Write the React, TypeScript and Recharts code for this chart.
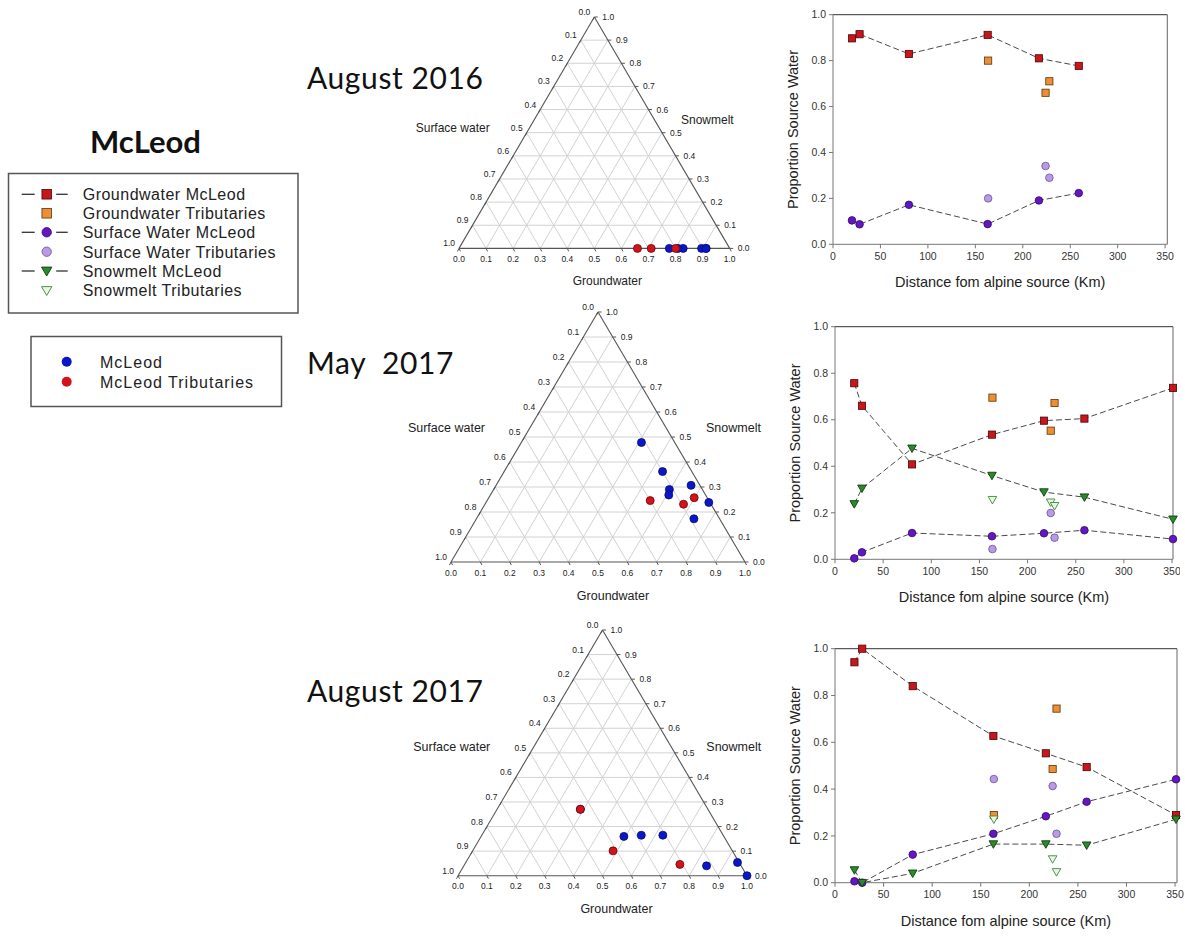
import React from 'react';
import { ScatterChart, Scatter, XAxis, YAxis, ReferenceLine } from 'recharts';

const FONT = "'Liberation Sans', Arial, Helvetica, sans-serif";
const TITLE_FONT = "Lato, 'Open Sans', sans-serif";

// Distances (km) from alpine source
const mcleodKm = [20, 28, 80, 163, 217, 259, 351];
const tribKm = [163.5, 224, 228];

// August 2016 (six McLeod sites, no snowmelt)
const aug16GwMcLeod = [0.897, 0.915, 0.829, 0.912, 0.81, 0.777];
const aug16SwMcLeod = [0.104, 0.087, 0.172, 0.088, 0.191, 0.223];
const aug16SmMcLeod = [0, 0, 0, 0, 0, 0];
const aug16GwTrib = [0.8, 0.66, 0.71];
const aug16SwTrib = [0.2, 0.341, 0.29];
const aug16SmTrib = [0, 0, 0];

// May 2017
const may17GwMcLeod = [0.757, 0.66, 0.408, 0.536, 0.596, 0.605, 0.737];
const may17SwMcLeod = [0.004, 0.03, 0.113, 0.099, 0.112, 0.125, 0.087];
const may17SmMcLeod = [0.238, 0.305, 0.477, 0.36, 0.289, 0.267, 0.172];
const may17GwTrib = [0.695, 0.553, 0.672];
const may17SwTrib = [0.044, 0.199, 0.093];
const may17SmTrib = [0.256, 0.245, 0.23];

// August 2017
const aug17GwMcLeod = [0.942, 1.0, 0.84, 0.627, 0.553, 0.494, 0.289];
const aug17SwMcLeod = [0.006, 0.0, 0.12, 0.209, 0.284, 0.346, 0.442];
const aug17SmMcLeod = [0.054, 0.0, 0.04, 0.165, 0.165, 0.16, 0.271];
const aug17GwTrib = [0.289, 0.486, 0.744];
const aug17SwTrib = [0.443, 0.413, 0.209];
const aug17SmTrib = [0.271, 0.101, 0.046];

// Ticks
const proportionTicks = [0, 0.2, 0.4, 0.6, 0.8, 1.0];
const distanceTicks = [0, 50, 100, 150, 200, 250, 300, 350];
const ternaryTicks = [0, 0.1, 0.2, 0.3, 0.4, 0.5, 0.6, 0.7, 0.8, 0.9, 1.0];
const ternaryGrid = [0.1, 0.2, 0.3, 0.4, 0.5, 0.6, 0.7, 0.8, 0.9];

const legendSeries = [
  'Groundwater McLeod',
  'Groundwater Tributaries',
  'Surface Water McLeod',
  'Surface Water Tributaries',
  'Snowmelt McLeod',
  'Snowmelt Tributaries',
];
const legendSites = ['McLeod', 'McLeod Tributaries'];

// Colours
const C = {
  gwMc: ['#c8161d', '#4a0606'],
  gwTr: ['#ee8f36', '#5a3408'],
  swMc: ['#6316c2', '#2e0a66'],
  swTr: ['#b99be2', '#6a4fa0'],
  smMc: ['#2b8a2b', '#0e3f0e'],
  smTr: ['#e9f6e2', '#3a8a3a'],
  blue: ['#0b17c6', '#050c70'],
  red: ['#d3121b', '#6a0808'],
};

type Pt = { x: number; y: number; label?: string };
const pairs = (xs: number[], ys: number[]): Pt[] => ys.map((y, i) => ({ x: xs[i], y }));
const ternaryPoints = (gw: number[], sw: number[], sm: number[]): Pt[] =>
  gw.map((g, i) => {
    const t = g + sw[i] + sm[i];
    return { x: (g + 0.5 * sm[i]) / t, y: sm[i] / t };
  });

const NoShape = () => <g />;
const squareShape = (c: string[], s = 7.2) => (p: any) =>
  p.cx == null ? <g /> : <rect x={p.cx - s / 2} y={p.cy - s / 2} width={s} height={s} fill={c[0]} stroke={c[1]} strokeWidth={0.8} />;
const circleShape = (c: string[], r = 3.8) => (p: any) =>
  p.cx == null ? <g /> : <circle cx={p.cx} cy={p.cy} r={r} fill={c[0]} stroke={c[1]} strokeWidth={0.8} />;
const triShape = (c: string[]) => (p: any) =>
  p.cx == null ? <g /> : (
    <polygon
      points={`${p.cx - 4.3},${p.cy - 3.3} ${p.cx + 4.3},${p.cy - 3.3} ${p.cx},${p.cy + 4.2}`}
      fill={c[0]}
      stroke={c[1]}
      strokeWidth={0.9}
    />
  );

const XTitle = (props: any) => {
  const vb = props.viewBox || {};
  const x = (vb.x ?? 0) + (vb.width ?? 0) / 2;
  const y = (vb.y ?? 0) + 43;
  return (
    <text x={x} y={y} textAnchor="middle" fontSize={14.5} fontFamily={FONT} fill="#222">
      Distance fom alpine source (Km)
    </text>
  );
};
const YTitle = (props: any) => {
  const vb = props.viewBox || {};
  const x = (vb.x ?? 0) + (vb.width ?? 0) - 40;
  const y = (vb.y ?? 0) + (vb.height ?? 0) / 2;
  return (
    <text
      x={x}
      y={y}
      transform={`rotate(-90, ${x}, ${y})`}
      textAnchor="middle"
      dominantBaseline="central"
      fontSize={14.5}
      fontFamily={FONT}
      fill="#222"
    >
      Proportion Source Water
    </text>
  );
};

function SourceChart(props: any) {
  const { left, top, width, height, margin, xMax, gwMc, gwTr, swMc, swTr, smMc, smTr } = props;
  const dash = { stroke: '#4a4a4a', strokeWidth: 1, strokeDasharray: '6 3' };
  return (
    <div style={{ position: 'absolute', left, top, width, height }}>
      <ScatterChart width={width} height={height} margin={margin}>
        <XAxis
          type="number"
          dataKey="x"
          domain={[0, xMax]}
          ticks={distanceTicks}
          interval={0}
          height={30}
          tickSize={4}
          tickMargin={4}
          tick={{ fontSize: 10.5, fill: '#333', fontFamily: FONT }}
          axisLine={{ stroke: '#777' }}
          tickLine={{ stroke: '#777' }}
          label={<XTitle />}
        />
        <YAxis
          type="number"
          dataKey="y"
          domain={[0, 1]}
          ticks={proportionTicks}
          interval={0}
          width={40}
          tickSize={4}
          tickMargin={3}
          tickFormatter={(v: number) => v.toFixed(1)}
          tick={{ fontSize: 10.5, fill: '#333', fontFamily: FONT }}
          axisLine={{ stroke: '#777' }}
          tickLine={{ stroke: '#777' }}
          label={<YTitle />}
        />
        <ReferenceLine y={1} stroke="#333" strokeWidth={1} ifOverflow="visible" />
        <ReferenceLine x={xMax} stroke="#666" strokeWidth={1} ifOverflow="visible" />
        <Scatter data={gwMc} line={dash} lineType="joint" shape={squareShape(C.gwMc)} isAnimationActive={false} />
        <Scatter data={swMc} line={dash} lineType="joint" shape={circleShape(C.swMc)} isAnimationActive={false} />
        {smMc && smMc.length > 0 && (
          <Scatter data={smMc} line={dash} lineType="joint" shape={triShape(C.smMc)} isAnimationActive={false} />
        )}
        <Scatter data={gwTr} shape={squareShape(C.gwTr)} isAnimationActive={false} />
        <Scatter data={swTr} shape={circleShape(C.swTr)} isAnimationActive={false} />
        {smTr && smTr.length > 0 && <Scatter data={smTr} shape={triShape(C.smTr)} isAnimationActive={false} />}
      </ScatterChart>
    </div>
  );
}

function Ternary(props: any) {
  const { left, top, w, h, mcGw, mcSw, mcSm, trGw, trSw, trSm, nameSize, swDx, swDy, smDx, smDy, gwDx, gwDy } = props;
  const mL = 85, mR = 80, mT = 15, mB = 50;
  const mc = ternaryPoints(mcGw, mcSw, mcSm);
  const tr = ternaryPoints(trGw, trSw, trSm);
  const gridSegs: Pt[][] = [];
  ternaryGrid.forEach((v) => {
    gridSegs.push([{ x: 0.5 * v, y: v }, { x: 1 - 0.5 * v, y: v }]);
    gridSegs.push([{ x: v, y: 0 }, { x: v + 0.5 * (1 - v), y: 1 - v }]);
    gridSegs.push([{ x: 1 - v, y: 0 }, { x: 0.5 * (1 - v), y: 1 - v }]);
  });
  const edges: Pt[][] = [
    [{ x: 0, y: 0 }, { x: 1, y: 0 }],
    [{ x: 0, y: 0 }, { x: 0.5, y: 1 }],
    [{ x: 1, y: 0 }, { x: 0.5, y: 1 }],
  ];
  const bottomTicks = ternaryTicks.map((v) => ({ x: v, y: 0, label: v.toFixed(1) }));
  const leftTicks = ternaryTicks.map((v) => ({ x: 0.5 * (1 - v), y: 1 - v, label: v.toFixed(1) }));
  const rightTicks = ternaryTicks.map((v) => ({ x: 1 - 0.5 * v, y: v, label: v.toFixed(1) }));
  const tf = { fontSize: 8.5, fontFamily: FONT, fill: '#222' };
  const bottomShape = (p: any) => (
    <g>
      <line x1={p.cx} y1={p.cy} x2={p.cx + 1.5} y2={p.cy + 3} stroke="#555" />
      <text x={p.cx} y={p.cy + 13.5} textAnchor="middle" {...tf}>{p.payload.label}</text>
    </g>
  );
  const leftShape = (p: any) => (
    <g>
      <line x1={p.cx} y1={p.cy} x2={p.cx - 1.5} y2={p.cy + 3} stroke="#555" />
      <text x={p.cx - 4} y={p.cy - 2} textAnchor="end" {...tf}>{p.payload.label}</text>
    </g>
  );
  const rightShape = (p: any) => (
    <g>
      <line x1={p.cx} y1={p.cy} x2={p.cx + 3.5} y2={p.cy} stroke="#555" />
      <text x={p.cx + 8} y={p.cy + 3} textAnchor="start" {...tf}>{p.payload.label}</text>
    </g>
  );
  const nameShape = (label: string, anchor: string, dx: number, dy: number) => (p: any) => (
    <text x={p.cx + dx} y={p.cy + dy} textAnchor={anchor} fontSize={nameSize} fontFamily={FONT} fill="#222">
      {label}
    </text>
  );
  const W = w + mL + mR;
  const H = h + mT + mB;
  return (
    <div style={{ position: 'absolute', left: left - mL, top: top - mT, width: W, height: H }}>
      <ScatterChart width={W} height={H} margin={{ top: mT, right: mR, bottom: mB, left: mL }}>
        <XAxis type="number" dataKey="x" domain={[0, 1]} hide />
        <YAxis type="number" dataKey="y" domain={[0, 1]} hide />
        {gridSegs.map((seg, i) => (
          <Scatter
            key={`g${i}`}
            data={seg}
            line={{ stroke: '#d2d2d2', strokeWidth: 1 }}
            lineType="joint"
            shape={NoShape}
            isAnimationActive={false}
          />
        ))}
        {edges.map((seg, i) => (
          <Scatter
            key={`e${i}`}
            data={seg}
            line={{ stroke: '#555', strokeWidth: 1.1 }}
            lineType="joint"
            shape={NoShape}
            isAnimationActive={false}
          />
        ))}
        <Scatter data={bottomTicks} shape={bottomShape} isAnimationActive={false} />
        <Scatter data={leftTicks} shape={leftShape} isAnimationActive={false} />
        <Scatter data={rightTicks} shape={rightShape} isAnimationActive={false} />
        <Scatter data={[{ x: 0.25, y: 0.5 }]} shape={nameShape('Surface water', 'end', swDx, swDy)} isAnimationActive={false} />
        <Scatter data={[{ x: 0.75, y: 0.5 }]} shape={nameShape('Snowmelt', 'start', smDx, smDy)} isAnimationActive={false} />
        <Scatter data={[{ x: 0.5, y: 0 }]} shape={nameShape('Groundwater', 'middle', gwDx, gwDy)} isAnimationActive={false} />
        <Scatter data={mc} shape={circleShape(C.blue, 4)} isAnimationActive={false} />
        <Scatter data={tr} shape={circleShape(C.red, 4)} isAnimationActive={false} />
      </ScatterChart>
    </div>
  );
}

function LegendIcon({ kind, x, y, c, line }: any) {
  const s = 9.5;
  let mark = null;
  if (kind === 'square') mark = <rect x={x - s / 2} y={y - s / 2} width={s} height={s} fill={c[0]} stroke={c[1]} strokeWidth={0.8} />;
  if (kind === 'circle') mark = <circle cx={x} cy={y} r={4.7} fill={c[0]} stroke={c[1]} strokeWidth={0.8} />;
  if (kind === 'tri')
    mark = <polygon points={`${x - 5.2},${y - 3.9} ${x + 5.2},${y - 3.9} ${x},${y + 5}`} fill={c[0]} stroke={c[1]} strokeWidth={0.9} />;
  return (
    <g>
      {line && <line x1={x - 25} y1={y} x2={x - 12} y2={y} stroke="#333" strokeWidth={1.3} />}
      {line && <line x1={x + 9.5} y1={y} x2={x + 21} y2={y} stroke="#333" strokeWidth={1.3} />}
      {mark}
    </g>
  );
}

export default function App() {
  const legendIcons = [
    { kind: 'square', c: C.gwMc, line: true },
    { kind: 'square', c: C.gwTr, line: false },
    { kind: 'circle', c: C.swMc, line: true },
    { kind: 'circle', c: C.swTr, line: false },
    { kind: 'tri', c: C.smMc, line: true },
    { kind: 'tri', c: C.smTr, line: false },
  ];
  const rowY = [194.3, 213.3, 232.3, 251.7, 271, 290.5];
  return (
    <div style={{ position: 'absolute', left: 0, top: 0, width: 1185, height: 941, overflow: 'hidden', background: '#fff' }}>
      <svg width={1185} height={941} style={{ position: 'absolute', left: 0, top: 0 }}>
        <text x={90} y={153} fontSize={31} fontWeight="bold" fontFamily={TITLE_FONT} fill="#111">McLeod</text>
        <text x={307} y={88.5} fontSize={30} letterSpacing={0.6} fontFamily={TITLE_FONT} fill="#111">August 2016</text>
        <text x={307} y={374} fontSize={30} letterSpacing={0.6} fontFamily={TITLE_FONT} fill="#111" style={{ whiteSpace: 'pre' }}>May  2017</text>
        <text x={307} y={702} fontSize={30} letterSpacing={0.6} fontFamily={TITLE_FONT} fill="#111">August 2017</text>

        <rect x={8.5} y={173.5} width={289.5} height={139.5} fill="none" stroke="#555" strokeWidth={1.5} />
        {legendSeries.map((name, i) => (
          <g key={name}>
            <LegendIcon {...legendIcons[i]} x={46.7} y={rowY[i]} />
            <text x={82.7} y={rowY[i] + 5.8} fontSize={16} letterSpacing={0.5} fontFamily={FONT} fill="#222">{name}</text>
          </g>
        ))}

        <rect x={31} y={336.5} width={250.5} height={70} fill="none" stroke="#555" strokeWidth={1.5} />
        {legendSites.map((name, i) => (
          <g key={name}>
            <circle cx={66.7} cy={361.7 + i * 20} r={5} fill={i === 0 ? C.blue[0] : C.red[0]} />
            <text x={100} y={367.5 + i * 20} fontSize={16} letterSpacing={1} fontFamily={FONT} fill="#222">{name}</text>
          </g>
        ))}
      </svg>

      <Ternary
        left={459.3} top={17.3} w={270.7} h={231.4}
        mcGw={aug16GwMcLeod} mcSw={aug16SwMcLeod} mcSm={aug16SmMcLeod}
        trGw={aug16GwTrib} trSw={aug16SwTrib} trSm={aug16SmTrib}
        nameSize={12} swDx={-37} swDy={-1} smDx={19} smDy={-8.7} gwDx={13} gwDy={36.6}
      />
      <Ternary
        left={451} top={312.3} w={294} h={250}
        mcGw={may17GwMcLeod} mcSw={may17SwMcLeod} mcSm={may17SmMcLeod}
        trGw={may17GwTrib} trSw={may17SwTrib} trSm={may17SmTrib}
        nameSize={12.5} swDx={-39.5} swDy={-5} smDx={34.5} smDy={-5} gwDx={15} gwDy={38}
      />
      <Ternary
        left={457.7} top={630} w={289} h={245.7}
        mcGw={aug17GwMcLeod} mcSw={aug17SwMcLeod} mcSm={aug17SmMcLeod}
        trGw={aug17GwTrib} trSw={aug17SwTrib} trSm={aug17SmTrib}
        nameSize={12.5} swDx={-40} swDy={-2} smDx={31.6} smDy={-2} gwDx={14} gwDy={37.6}
      />

      <SourceChart
        left={780} top={0} width={400} height={300}
        margin={{ top: 14.7, right: 12.7, bottom: 25.7, left: 13 }}
        xMax={352.3}
        gwMc={pairs(mcleodKm, aug16GwMcLeod)} gwTr={pairs(tribKm, aug16GwTrib)}
        swMc={pairs(mcleodKm, aug16SwMcLeod)} swTr={pairs(tribKm, aug16SwTrib)}
      />
      <SourceChart
        left={780} top={310} width={400} height={300}
        margin={{ top: 16.7, right: 7, bottom: 20.7, left: 15 }}
        xMax={351}
        gwMc={pairs(mcleodKm, may17GwMcLeod)} gwTr={pairs(tribKm, may17GwTrib)}
        swMc={pairs(mcleodKm, may17SwMcLeod)} swTr={pairs(tribKm, may17SwTrib)}
        smMc={pairs(mcleodKm, may17SmMcLeod)} smTr={pairs(tribKm, may17SmTrib)}
      />
      <SourceChart
        left={780} top={620} width={405} height={321}
        margin={{ top: 28.7, right: 8, bottom: 28.3, left: 15 }}
        xMax={352}
        gwMc={pairs(mcleodKm, aug17GwMcLeod)} gwTr={pairs(tribKm, aug17GwTrib)}
        swMc={pairs(mcleodKm, aug17SwMcLeod)} swTr={pairs(tribKm, aug17SwTrib)}
        smMc={pairs(mcleodKm, aug17SmMcLeod)} smTr={pairs(tribKm, aug17SmTrib)}
      />
    </div>
  );
}
